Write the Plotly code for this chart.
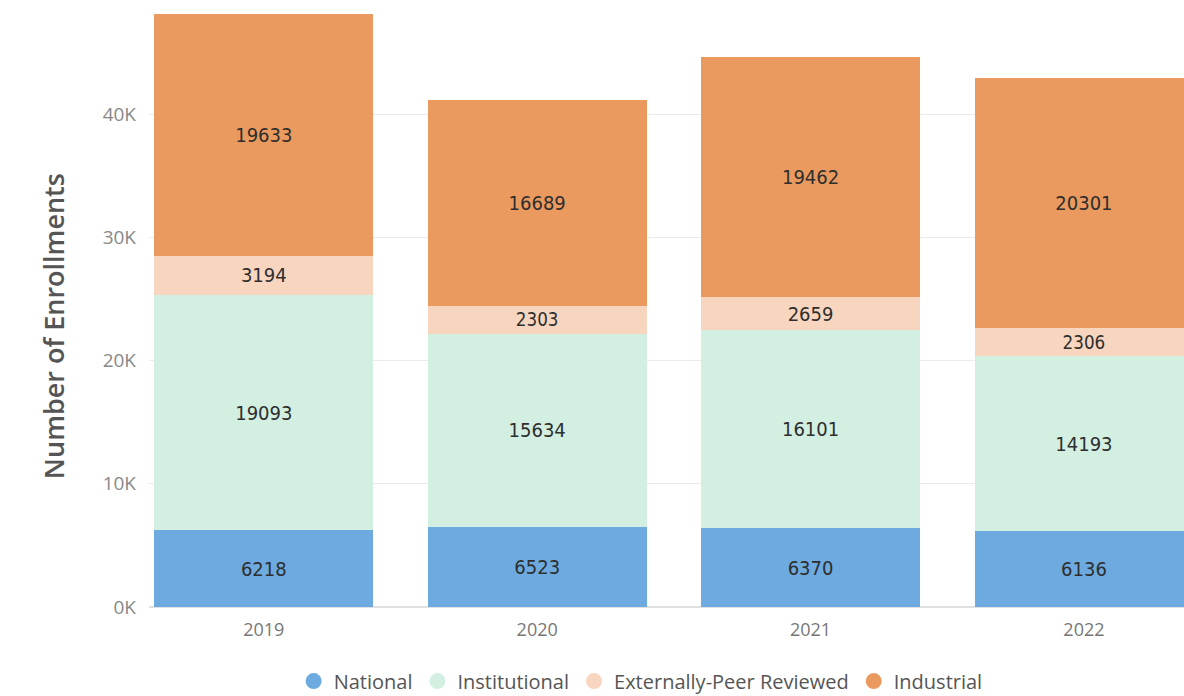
import plotly.graph_objects as go

years = ["2019", "2020", "2021", "2022"]
national = [6218, 6523, 6370, 6136]
institutional = [19093, 15634, 16101, 14193]
peer_reviewed = [3194, 2303, 2659, 2306]
industrial = [19633, 16689, 19462, 20301]

series = [
    ("National", national, "#6CAAE0"),
    ("Institutional", institutional, "#D3EFE2"),
    ("Externally-Peer Reviewed", peer_reviewed, "#F7D5BE"),
    ("Industrial", industrial, "#EB9A5F"),
]

y_tickvals = [0, 10000, 20000, 30000, 40000]
y_ticktext = ["0K", "10K", "20K", "30K", "40K"]

fig = go.Figure()

for name, values, color in series:
    fig.add_trace(
        go.Bar(
            x=years,
            y=values,
            name=name,
            marker=dict(color=color, line=dict(width=0)),
            text=[str(v) for v in values],
            textposition="inside",
            insidetextanchor="middle",
            textangle=0,
            textfont=dict(family="DejaVu Sans Condensed", size=20, color="#2E2E2E"),
            showlegend=False,
            hoverinfo="skip",
        )
    )

# legend entries drawn as circles, like the original
for name, _, color in series:
    fig.add_trace(
        go.Scatter(
            x=[None],
            y=[None],
            mode="markers",
            name=name,
            marker=dict(color=color, size=18, symbol="circle"),
        )
    )

fig.add_annotation(
    text="Number of Enrollments",
    xref="paper",
    yref="paper",
    x=-0.112,
    y=0.462,
    textangle=-90,
    showarrow=False,
    font=dict(family="Open Sans", size=27, color="#555555", weight=600),
)

fig.update_layout(
    width=1184,
    height=696,
    barmode="stack",
    bargap=0.2,
    plot_bgcolor="white",
    paper_bgcolor="white",
    margin=dict(l=149, r=0, t=0, b=89, autoexpand=False),
    font=dict(family="Open Sans", color="#777777"),
    legend=dict(
        orientation="h",
        traceorder="normal",
        x=0.475,
        xanchor="center",
        y=-0.122,
        yanchor="middle",
        font=dict(size=20, color="#555555"),
        itemwidth=30,
        tracegroupgap=0,
    ),
)

fig.update_xaxes(
    range=[-0.42, 3.366],
    showgrid=False,
    showline=False,
    ticks="",
    tickfont=dict(size=18, color="#777777"),
    ticklabelstandoff=10,
    automargin=False,
)
fig.update_yaxes(
    range=[0, 49250],
    tickvals=y_tickvals,
    ticktext=y_ticktext,
    showgrid=True,
    gridcolor="#EBEBEB",
    gridwidth=1,
    zeroline=True,
    zerolinecolor="#E0E0E0",
    showline=False,
    tickfont=dict(size=19, color="#888888"),
    ticklabelstandoff=12,
    automargin=False,
)

# the page body has a default 8px margin; drop it so the figure sits at the corner
fig.write_html(
    "out.html",
    config={"displayModeBar": False},
    post_script="document.body.style.margin='0';",
)
